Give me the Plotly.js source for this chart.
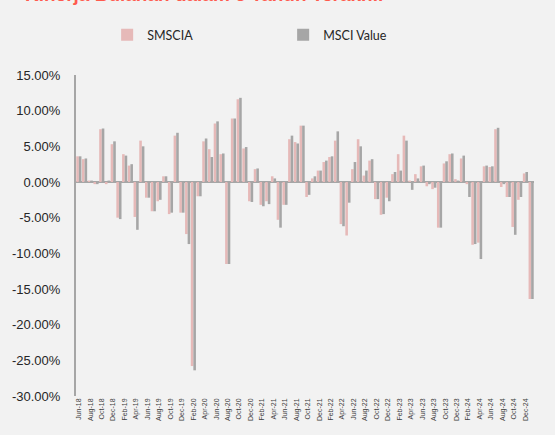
<!DOCTYPE html>
<html>
<head>
<meta charset="utf-8">
<script src="https://cdn.plot.ly/plotly-3.0.1.min.js"></script>
<style>
  html, body { margin: 0; padding: 0; background: #F2F2F2; }
  #chart { width: 555px; height: 435px; }
</style>
</head>
<body>
<div id="chart"></div>
<script>
const categories = [
  'Jun-18','Jul-18','Aug-18','Sep-18','Oct-18','Nov-18','Dec-18',
  'Jan-19','Feb-19','Mar-19','Apr-19','May-19','Jun-19','Jul-19','Aug-19','Sep-19','Oct-19','Nov-19','Dec-19',
  'Jan-20','Feb-20','Mar-20','Apr-20','May-20','Jun-20','Jul-20','Aug-20','Sep-20','Oct-20','Nov-20','Dec-20',
  'Jan-21','Feb-21','Mar-21','Apr-21','May-21','Jun-21','Jul-21','Aug-21','Sep-21','Oct-21','Nov-21','Dec-21',
  'Jan-22','Feb-22','Mar-22','Apr-22','May-22','Jun-22','Jul-22','Aug-22','Sep-22','Oct-22','Nov-22','Dec-22',
  'Jan-23','Feb-23','Mar-23','Apr-23','May-23','Jun-23','Jul-23','Aug-23','Sep-23','Oct-23','Nov-23','Dec-23',
  'Jan-24','Feb-24','Mar-24','Apr-24','May-24','Jun-24','Jul-24','Aug-24','Sep-24','Oct-24','Nov-24','Dec-24',
  'Jan-25'
];

const smscia = [
  3.6, 3.2, 0.2, -0.3, 7.4, -0.3, 5.3,
  -5.0, 3.9, 2.3, -4.9, 5.8, -2.2, -4.1, -2.7, 0.8, -4.5, 6.5, -4.3,
  -7.3, -25.8, -2.0, 5.7, 4.6, 8.2, 3.9, -11.5, 8.9, 11.6, 4.7, -2.7,
  1.8, -3.2, -2.7, 0.8, -5.3, -3.2, 6.0, 5.6, 7.9, -2.1, 0.5, 1.6,
  2.8, 3.5, 5.8, -5.9, -7.5, 1.8, 6.0, 0.9, 3.0, -2.4, -4.6, -2.2,
  1.1, 3.9, 6.5, 0.2, 1.1, 2.2, -0.6, -1.0, -6.4, 2.6, 3.9, 0.4,
  3.3, -0.3, -8.8, -8.5, 2.2, 2.1, 7.4, -0.7, -2.1, -6.3, -2.5, 1.2,
  -16.4
];

const msciValue = [
  3.6, 3.3, 0.2, -0.3, 7.5, 0.2, 5.7,
  -5.2, 3.7, 2.5, -6.7, 5.0, -2.2, -4.1, -2.5, 0.8, -4.3, 6.9, -4.3,
  -8.7, -26.4, -2.0, 6.1, 3.5, 8.5, 4.0, -11.5, 8.9, 11.8, 4.9, -2.8,
  1.9, -3.4, -3.1, 0.5, -6.4, -3.2, 6.5, 5.4, 7.9, -1.8, 0.8, 1.6,
  3.0, 3.6, 7.1, -6.2, -2.9, 2.8, 5.0, 1.6, 3.2, -2.4, -4.5, -2.7,
  1.4, 1.6, 5.8, -1.1, 0.5, 2.3, -0.3, -0.8, -6.4, 2.9, 4.0, 0.2,
  3.7, -2.1, -8.7, -10.8, 2.3, 2.2, 7.6, -0.3, -2.1, -7.4, -2.1, 1.4,
  -16.4
];

const seriesNames = ['SMSCIA', 'MSCI Value'];
const xTickLabels = categories.filter((c, i) => i % 2 === 0);
const yTickVals = [15, 10, 5, 0, -5, -10, -15, -20, -25, -30];
const yTickText = ['15.00%', '10.00%', '5.00%', '0.00%', '-5.00%', '-10.00%', '-15.00%', '-20.00%', '-25.00%', '-30.00%'];
const titleText = 'Kinerja Bulanan dalam 6 Tahun Terakhir';

const traces = [
  { type: 'bar', name: seriesNames[0], x: categories, y: smscia,
    marker: { color: '#E6B9B8' }, hoverinfo: 'x+y+name' },
  { type: 'bar', name: seriesNames[1], x: categories, y: msciValue,
    marker: { color: '#A6A6A6' }, hoverinfo: 'x+y+name' }
];

const layout = {
  width: 555, height: 435,
  paper_bgcolor: '#F2F2F2', plot_bgcolor: '#F2F2F2',
  margin: { l: 76, r: 21, t: 75, b: 39, pad: 0 },
  barmode: 'group', bargap: 0.1, bargroupgap: 0,
  font: { family: 'Liberation Sans, Arial, sans-serif', color: '#404040' },
  showlegend: true,
  legend: {
    orientation: 'h', x: 0.068, xanchor: 'left', y: 1.1246, yanchor: 'middle',
    font: { family: 'Lato, Liberation Sans, sans-serif', size: 12.5, color: '#262626' },
    entrywidth: 131, entrywidthmode: 'pixels',
    bgcolor: 'rgba(0,0,0,0)', traceorder: 'normal'
  },
  xaxis: {
    type: 'category', categoryorder: 'array', categoryarray: categories,
    range: [-0.5, categories.length - 0.5],
    tickmode: 'array', tickvals: xTickLabels, ticktext: xTickLabels,
    tickangle: -90, tickfont: { size: 7, color: '#404040' },
    showline: false, showgrid: false, zeroline: false, ticks: ''
  },
  yaxis: {
    range: [-30, 15], tickmode: 'array', tickvals: yTickVals, ticktext: yTickText,
    tickfont: { size: 13, color: '#262626' },
    showgrid: false, showline: true, linecolor: '#A6A6A6', linewidth: 2,
    zeroline: true, zerolinecolor: '#A6A6A6', zerolinewidth: 2,
    ticks: '', ticklabelstandoff: 11
  },
  annotations: [{
    text: '<b>' + titleText + '</b>', xref: 'paper', yref: 'paper',
    x: -0.1157, xanchor: 'left', y: 1.2087, yanchor: 'bottom', yshift: 1,
    showarrow: false, font: { family: 'Liberation Sans, Arial, sans-serif', size: 19, color: '#FF5A4E' }
  }]
};

Plotly.newPlot('chart', traces, layout, { displayModeBar: false, staticPlot: true });
</script>
</body>
</html>
